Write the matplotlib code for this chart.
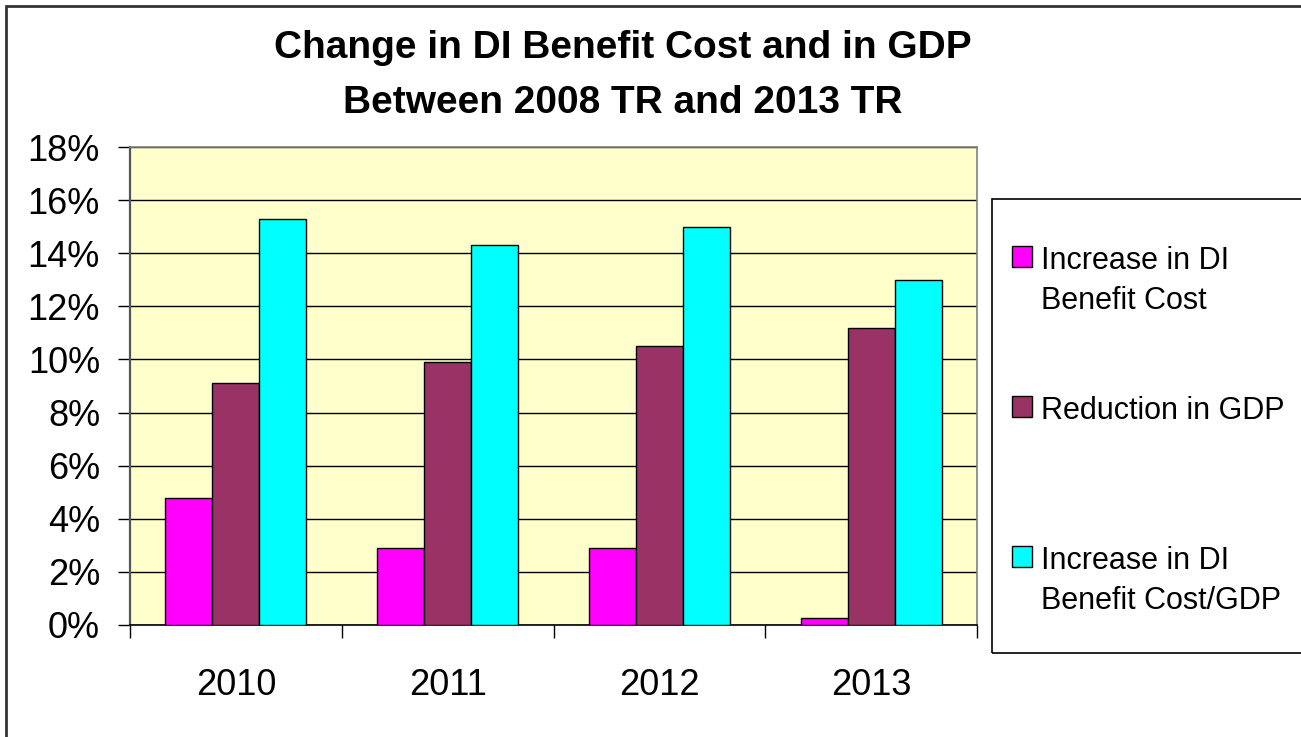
import numpy as np
from matplotlib import pyplot as plt
from matplotlib.patches import Rectangle

plt.rcParams['font.family'] = ['Liberation Sans', 'DejaVu Sans']

# Data
years = ['2010', '2011', '2012', '2013']
labels = ['Increase in DI\nBenefit Cost', 'Reduction in GDP', 'Increase in DI\nBenefit Cost/GDP']
colors = ['#FF00FF', '#993366', '#00FFFF']
cost_increase = [4.8, 2.9, 2.9, 0.25]
gdp_reduction = [9.1, 9.9, 10.5, 11.2]
cost_to_gdp = [15.3, 14.3, 15.0, 13.0]
series = [cost_increase, gdp_reduction, cost_to_gdp]

W, H = 1301, 737
fig = plt.figure(figsize=(W / 100, H / 100), dpi=100)
ax = fig.add_axes([130 / W, 1 - 625 / H, (977 - 130) / W, (625 - 147) / H])
ax.set_facecolor('#FFFFCC')

x = np.arange(len(years))
width = 0.222
for i, (vals, c) in enumerate(zip(series, colors)):
    ax.bar(x + (i - 1) * width, vals, width, color=c, edgecolor='black', lw=1.0, zorder=3)

ax.set_xlim(-0.5, len(years) - 0.5)
ax.set_ylim(0, 18)
ax.set_yticks(np.arange(0, 19, 2))
ax.set_yticklabels([f'{v}%' for v in range(0, 19, 2)])
ax.yaxis.grid(True, color='black', lw=1.0, zorder=1)
ax.set_axisbelow(True)

# category labels centred, tick marks on the boundaries
ax.set_xticks(x)
ax.set_xticklabels(years)
ax.set_xticks(np.arange(-0.5, len(years)), minor=True)
ax.tick_params(axis='x', which='major', length=0, pad=31, labelsize=26)
ax.tick_params(axis='x', which='minor', length=9.5, width=1.0, color='black', direction='out')
ax.tick_params(axis='y', length=8.6, width=1.0, pad=13, labelsize=26, color='black')

for side in ['top', 'right']:
    ax.spines[side].set_color('#808080')
    ax.spines[side].set_linewidth(1.2)
ax.spines['left'].set_color('#555555')
ax.spines['left'].set_linewidth(1.6)
ax.spines['bottom'].set_color('black')
ax.spines['bottom'].set_linewidth(1.2)

# Title
fig.text(623 / W, 1 - 58 / H, 'Change in DI Benefit Cost and in GDP', ha='center', va='baseline',
         fontsize=28, fontweight='bold')
fig.text(623 / W, 1 - 113 / H, 'Between 2008 TR and 2013 TR', ha='center', va='baseline',
         fontsize=28, fontweight='bold')

# Legend box
fig.patches.append(Rectangle((992 / W, 1 - 653 / H), (1320 - 992) / W, (653 - 199) / H,
                             transform=fig.transFigure, fill=False, edgecolor='black', lw=1.2))
for i, (lab, c) in enumerate(zip(labels, colors)):
    top = 246 + 150 * i
    fig.patches.append(Rectangle((1012 / W, 1 - (top + 21) / H), 20 / W, 21 / H,
                                 transform=fig.transFigure, facecolor=c, edgecolor='black', lw=1.0))
    for j, line in enumerate(lab.split('\n')):
        fig.text(1041 / W, 1 - (top + 23 + 40 * j) / H, line, ha='left', va='baseline', fontsize=22)

# Outer chart border
fig.patches.append(Rectangle((6 / W, -0.05), 1.1, 1 - 6 / H + 0.05, transform=fig.transFigure,
                             fill=False, edgecolor='#333333', lw=2.0))

fig.savefig('out.png', dpi=100)
